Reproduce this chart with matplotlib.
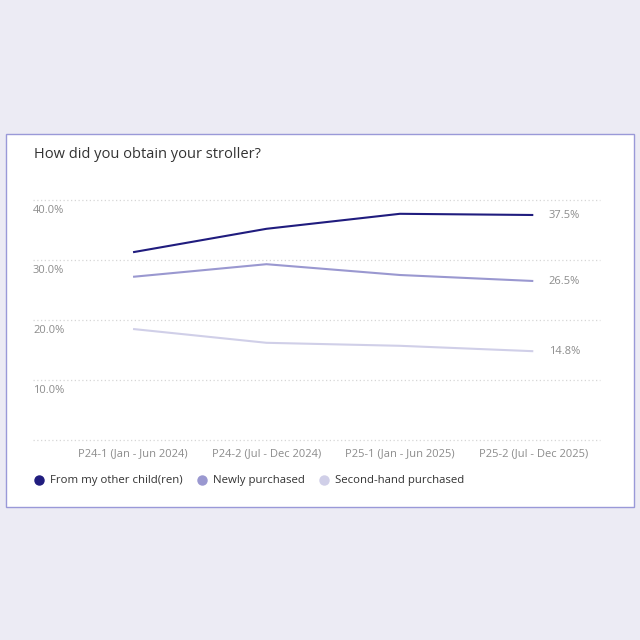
import matplotlib.pyplot as plt
from matplotlib.patches import Rectangle
from matplotlib.lines import Line2D

plt.rcParams['font.family'] = ['Open Sans', 'DejaVu Sans']

periods = ['P24-1 (Jan - Jun 2024)', 'P24-2 (Jul - Dec 2024)',
           'P25-1 (Jan - Jun 2025)', 'P25-2 (Jul - Dec 2025)']
other_child = [31.3, 35.2, 37.7, 37.5]
newly_purchased = [27.2, 29.3, 27.5, 26.5]
second_hand = [18.5, 16.2, 15.7, 14.8]
series_names = ['From my other child(ren)', 'Newly purchased', 'Second-hand purchased']
yticks = [0, 10, 20, 30, 40]

colors = ['#201c7e', '#9a98d0', '#d0cfe8']
grey = '#8c8c8c'

fig = plt.figure(figsize=(6.4, 6.4), dpi=100)
fig.patch.set_facecolor('#ecebf4')

# white card behind everything
card = Rectangle((6 / 640, 1 - 507 / 640), 628 / 640, 373 / 640,
                 transform=fig.transFigure, facecolor='white',
                 edgecolor='#9a99d8', linewidth=1.0, zorder=-1)
fig.patches.append(card)

fig.text(34 / 640, 1 - 155 / 640, 'How did you obtain your stroller?',
         fontsize=10.5, color='#333333', va='center', ha='left')

ax = fig.add_axes([33 / 640, 1 - 440 / 640, 567 / 640, 240 / 640])
ax.set_zorder(1)
ax.set_facecolor('none')
x = list(range(len(periods)))

for vals, c in zip([other_child, newly_purchased, second_hand], colors):
    ax.plot(x, vals, color=c, lw=1.5, solid_capstyle='butt')
    ax.annotate(f'{vals[-1]:.1f}%', (x[-1], vals[-1]), xytext=(11, 0),
                textcoords='offset points', va='center', ha='left',
                fontsize=8, color=grey)

ax.set_xlim(-0.75, 3.5)
ax.set_ylim(0, 40)
for y in yticks:
    ax.axhline(y, color='#d6d6d6', lw=0.9, ls=(0, (1, 2)), zorder=0,
               clip_on=False)
    if y > 0:
        ax.annotate(f'{y:.1f}%', (0, y), xycoords=('axes fraction', 'data'),
                    xytext=(0, -7.5), textcoords='offset points',
                    ha='left', va='center', fontsize=8, color=grey)

ax.set_xticks(x)
ax.set_xticklabels(periods, fontsize=8, color=grey)
ax.tick_params(axis='x', length=0, pad=6)
ax.set_yticks([])
for s in ax.spines.values():
    s.set_visible(False)

handles = [Line2D([], [], ls='none', marker='o', markersize=6.5,
                  markerfacecolor=c, markeredgecolor=c) for c in colors]
fig.legend(handles, series_names, loc='center left',
           bbox_to_anchor=(22 / 640, 1 - 481 / 640), ncol=3, frameon=False,
           fontsize=8.2, labelcolor='#333333', handletextpad=0.35,
           columnspacing=1.1, handlelength=1.2)

fig.savefig('out.png', dpi=100, facecolor=fig.get_facecolor())
